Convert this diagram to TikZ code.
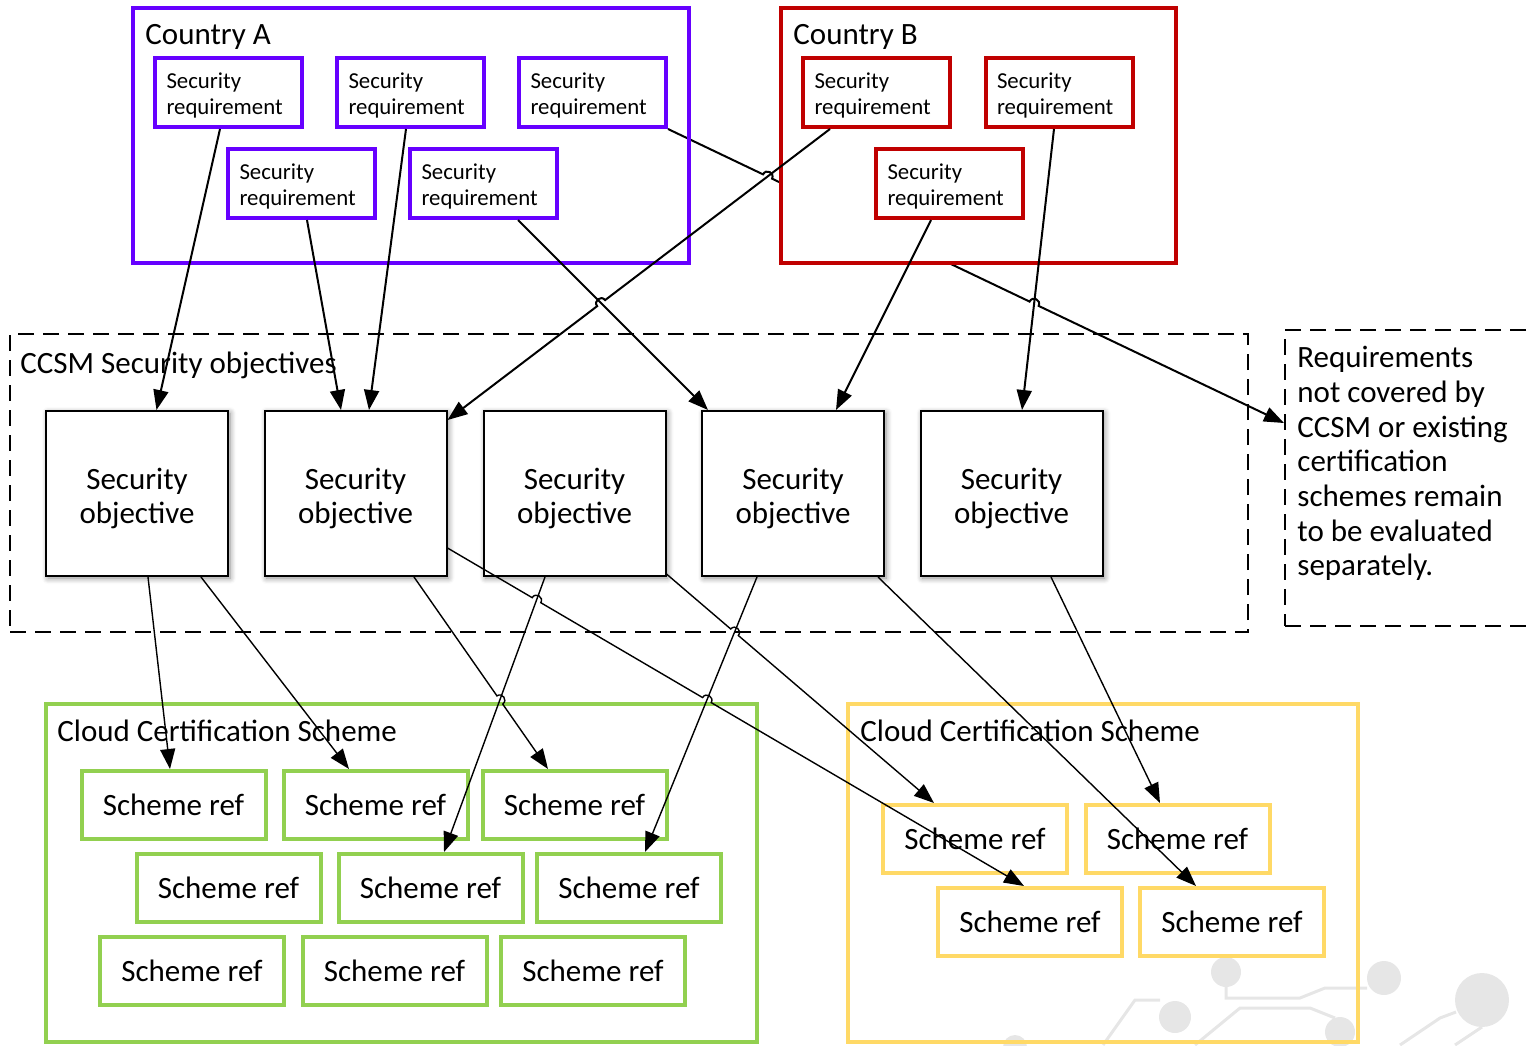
\documentclass[tikz,border=0pt]{standalone}
\usepackage{fontspec}
\setmainfont{Carlito}
\usetikzlibrary{arrows.meta,calc,intersections,shadows.blur}
\pgfdeclarelayer{under}
\pgfsetlayers{under,main}
\definecolor{violetA}{HTML}{6600FF}
\definecolor{redB}{HTML}{C00000}
\definecolor{greenC}{HTML}{92D050}
\definecolor{yellowC}{HTML}{FFD966}
\definecolor{wmgray}{HTML}{E6E6E6}
\newcommand\hopR{2.5pt}
\newcommand\hopC{3.3pt}
\newcommand\hopcoords[5]{%
  \coordinate (#1a) at ($(#1)!\hopR!(#2)$);
  \coordinate (#1b) at ($(#1)!\hopR!(#3)$);
  \coordinate (#1c) at ($(#1a)!\hopC!#4:(#1)$);
  \coordinate (#1d) at ($(#1b)!\hopC!#5:(#1)$);
}
\newcommand\reqtext{\rule{0pt}{10.8pt}Security\\requirement}
\newcommand\objtext{\rule{0pt}{15.2pt}Security\\objective}
\tikzset{
  groupframe/.style={draw, line width=2pt, inner sep=0pt},
  lbl/.style={anchor=base west, inner sep=0pt, font=\fontsize{15.5pt}{18pt}\selectfont},
  reqbox/.style={draw, line width=2pt, fill=white, minimum width=73.5pt, minimum height=34.5pt, inner xsep=0pt, inner ysep=0pt, text width=62pt, align=left, font=\fontsize{11.4pt}{13pt}\selectfont},
  objbox/.style={draw, line width=1pt, fill=white, minimum width=91pt, minimum height=82.5pt, align=center, font=\fontsize{15.5pt}{17pt}\selectfont, blur shadow={shadow xshift=1pt, shadow yshift=-1pt, shadow blur radius=3pt, shadow blur steps=8, shadow opacity=45}},
  srefbox/.style={draw, line width=2pt, fill=white, minimum width=92pt, minimum height=34pt, inner sep=0pt, font=\fontsize{15.5pt}{18pt}\selectfont},
  dashbox/.style={draw, line width=1pt, dash pattern=on 8pt off 4.5pt, inner sep=0pt},
  conn/.style={line width=1pt, -{Triangle[length=10pt,width=7.5pt]}},
  connT/.style={line width=0.7pt, -{Triangle[length=10pt,width=7.5pt]}},
  wm/.style={draw=wmgray, line width=1.5pt},
}
\begin{document}
\begin{tikzpicture}[x=0.5pt,y=-0.5pt]
\useasboundingbox (0,0) rectangle (1527,1045);

% faint background pattern
\fill[wmgray] (1226,972) circle[radius=15];
\fill[wmgray] (1384,978) circle[radius=17];
\fill[wmgray] (1482,1000) circle[radius=27];
\fill[wmgray] (1175,1017) circle[radius=16];
\fill[wmgray] (1340,1032) circle[radius=15];
\fill[wmgray] (1015,1047) circle[radius=12];
\draw[wm] (1226,987) -- (1226,998) -- (1300,998) -- (1325,988) -- (1367,988);
\draw[wm] (1103,1045) -- (1135,1000) -- (1160,1000);
\draw[wm] (1195,1045) -- (1240,1008) -- (1310,1008) -- (1335,1018);
\draw[wm] (1400,1045) -- (1440,1018) -- (1456,1012);
\draw[wm] (1455,1045) -- (1482,1027);

% Country A
\node[groupframe, draw=violetA, minimum width=278pt, minimum height=127.5pt] (ctryA) at (411,135.5) {};
\node[lbl] (lblA) at (145,44) {Country A};
\node[reqbox, draw=violetA] (A1) at (228.5,92.5) {\reqtext};
\node[reqbox, draw=violetA] (A2) at (410.5,92.5) {\reqtext};
\node[reqbox, draw=violetA] (A3) at (592.5,92.5) {\reqtext};
\node[reqbox, draw=violetA] (A4) at (301.5,183.5) {\reqtext};
\node[reqbox, draw=violetA] (A5) at (483.5,183.5) {\reqtext};

% Country B
\node[groupframe, draw=redB, fill=white, minimum width=197.5pt, minimum height=127.5pt] (ctryB) at (978.5,135.5) {};
\node[lbl] (lblB) at (793,44) {Country B};
\node[reqbox, draw=redB] (B1) at (876.5,92.5) {\reqtext};
\node[reqbox, draw=redB] (B2) at (1059,92.5) {\reqtext};
\node[reqbox, draw=redB] (B3) at (949.5,183.5) {\reqtext};

% CCSM objectives
\node[dashbox, minimum width=619pt, minimum height=149pt] (ccsm) at (629,483) {};
\node[lbl] (lblC) at (20,373) {CCSM Security objectives};
\node[objbox] (O1) at (137,493.5) {\objtext};
\node[objbox] (O2) at (355.5,493.5) {\objtext};
\node[objbox] (O3) at (574.5,493.5) {\objtext};
\node[objbox] (O4) at (793,493.5) {\objtext};
\node[objbox] (O5) at (1011.5,493.5) {\objtext};

% note
\node[dashbox, minimum width=130pt, minimum height=148pt] (note) at (1415,478) {};
\node[anchor=north west, inner sep=0pt, align=left, font=\fontsize{15.5pt}{17.35pt}\selectfont] (notetext) at (1297,346)
  {Requirements\\not covered by\\CCSM or existing\\certification\\schemes remain\\to be evaluated\\separately.};

% Cloud certification schemes
\node[groupframe, draw=greenC, minimum width=355.5pt, minimum height=169pt] (ccsG) at (401.5,873) {};
\node[lbl] (lblG) at (57,741) {Cloud Certification Scheme};
\node[srefbox, draw=greenC] (G1) at (173.5,805) {Scheme ref};
\node[srefbox, draw=greenC] (G2) at (375.5,805) {Scheme ref};
\node[srefbox, draw=greenC] (G3) at (574.5,805) {Scheme ref};
\node[srefbox, draw=greenC] (G4) at (228.5,888) {Scheme ref};
\node[srefbox, draw=greenC] (G5) at (430.5,888) {Scheme ref};
\node[srefbox, draw=greenC] (G6) at (629,888) {Scheme ref};
\node[srefbox, draw=greenC] (G7) at (192,971) {Scheme ref};
\node[srefbox, draw=greenC] (G8) at (394.5,971) {Scheme ref};
\node[srefbox, draw=greenC] (G9) at (593,971) {Scheme ref};

\node[groupframe, draw=yellowC, minimum width=255pt, minimum height=169pt] (ccsY) at (1103,873) {};
\node[lbl] (lblY) at (860,741) {Cloud Certification Scheme};
\node[srefbox, draw=yellowC] (Y1) at (975,839) {Scheme ref};
\node[srefbox, draw=yellowC] (Y2) at (1177.5,839) {Scheme ref};
\node[srefbox, draw=yellowC] (Y3) at (1030,922) {Scheme ref};
\node[srefbox, draw=yellowC] (Y4) at (1232,922) {Scheme ref};

% connector end points
\coordinate (s1) at ($(A1.south)+(-8.5,0)$);   \coordinate (t1) at ($(O1.north)+(19.5,0)$);
\coordinate (s2) at ($(A4.south)+(5.5,0)$);    \coordinate (t2) at ($(O2.north)+(-14.5,0)$);
\coordinate (s3) at ($(A2.south)+(-4.5,0)$);   \coordinate (t3) at ($(O2.north)+(13.5,0)$);
\coordinate (s4) at (A3.south east);           \coordinate (t4) at ($(note.west)+(0,-55)$);
\coordinate (s5) at ($(A5.south)+(34.5,0)$);   \coordinate (t5) at ($(O4.north west)+(7,0)$);
\coordinate (s6) at ($(B1.south)+(-46.5,0)$);  \coordinate (t6) at ($(O2.north east)+(0,10)$);
\coordinate (s7) at ($(B3.south)+(-18.5,0)$);  \coordinate (t7) at ($(O4.north)+(43,0)$);
\coordinate (s8) at ($(B2.south)+(-5,0)$);     \coordinate (t8) at ($(O5.north)+(10.5,0)$);

\coordinate (sa) at ($(O1.south)+(11,0)$);     \coordinate (ta) at ($(G1.north)+(-3.5,0)$);
\coordinate (sb) at ($(O1.south)+(64,0)$);     \coordinate (tb) at ($(G2.north)+(-26.5,0)$);
\coordinate (sc) at ($(O2.south)+(58.5,0)$);   \coordinate (tc) at ($(G3.north)+(-26.5,0)$);
\coordinate (sd) at ($(O2.east)+(0,54.5)$);    \coordinate (td) at ($(Y3.north)+(-6,0)$);
\coordinate (se) at ($(O3.south)+(-29.5,0)$);  \coordinate (te) at ($(G5.north)+(13.5,0)$);
\coordinate (sf) at ($(O3.south east)+(0,-3)$);\coordinate (tf) at ($(Y1.north)+(-41,0)$);
\coordinate (sg) at ($(O4.south)+(-36,0)$);    \coordinate (tg) at ($(G6.north)+(16,0)$);
\coordinate (sh) at ($(O4.south)+(85,0)$);     \coordinate (th) at ($(Y4.north)+(-36,0)$);
\coordinate (si) at ($(O5.south)+(39.5,0)$);   \coordinate (ti) at ($(Y2.north)+(-17.5,0)$);

% crossing points (line hops)
\path[name path=p4] (s4) -- (t4);
\path[name path=p5] (s5) -- (t5);
\path[name path=p6] (s6) -- (t6);
\path[name path=p8] (s8) -- (t8);
\path[name path=pc] (sc) -- (tc);
\path[name path=pd] (sd) -- (td);
\path[name path=pe] (se) -- (te);
\path[name path=pf] (sf) -- (tf);
\path[name path=pg] (sg) -- (tg);
\path[name intersections={of=p4 and p6, by=HA}];
\path[name intersections={of=p4 and p8, by=HB}];
\path[name intersections={of=p6 and p5, by=HC}];
\path[name intersections={of=pd and pe, by=HD}];
\path[name intersections={of=pd and pg, by=HE}];
\path[name intersections={of=pc and pe, by=HF}];
\path[name intersections={of=pf and pg, by=HG}];
\hopcoords{HA}{s4}{t4}{90}{-90}
\hopcoords{HB}{s4}{t4}{90}{-90}
\hopcoords{HC}{s6}{t6}{-90}{90}
\hopcoords{HD}{sd}{td}{90}{-90}
\hopcoords{HE}{sd}{td}{90}{-90}
\hopcoords{HF}{sc}{tc}{90}{-90}
\hopcoords{HG}{sf}{tf}{90}{-90}

% connector passing behind Country B
\begin{pgfonlayer}{under}
\draw[conn] (s4) -- (HAa) .. controls (HAc) and (HAd) .. (HAb) -- (HBa) .. controls (HBc) and (HBd) .. (HBb) -- (t4);
\end{pgfonlayer}

% requirement -> objective connectors
\draw[conn] (s1) -- (t1);
\draw[conn] (s2) -- (t2);
\draw[conn] (s3) -- (t3);
\draw[conn] (s5) -- (t5);
\draw[conn] (s6) -- (HCa) .. controls (HCc) and (HCd) .. (HCb) -- (t6);
\draw[conn] (s7) -- (t7);
\draw[conn] (s8) -- (t8);

% objective -> scheme connectors
\draw[connT] (sa) -- (ta);
\draw[connT] (sb) -- (tb);
\draw[connT] (sc) -- (HFa) .. controls (HFc) and (HFd) .. (HFb) -- (tc);
\draw[connT] (sd) -- (HDa) .. controls (HDc) and (HDd) .. (HDb) -- (HEa) .. controls (HEc) and (HEd) .. (HEb) -- (td);
\draw[connT] (se) -- (te);
\draw[connT] (sf) -- (HGa) .. controls (HGc) and (HGd) .. (HGb) -- (tf);
\draw[connT] (sg) -- (tg);
\draw[connT] (sh) -- (th);
\draw[connT] (si) -- (ti);
\end{tikzpicture}
\end{document}
